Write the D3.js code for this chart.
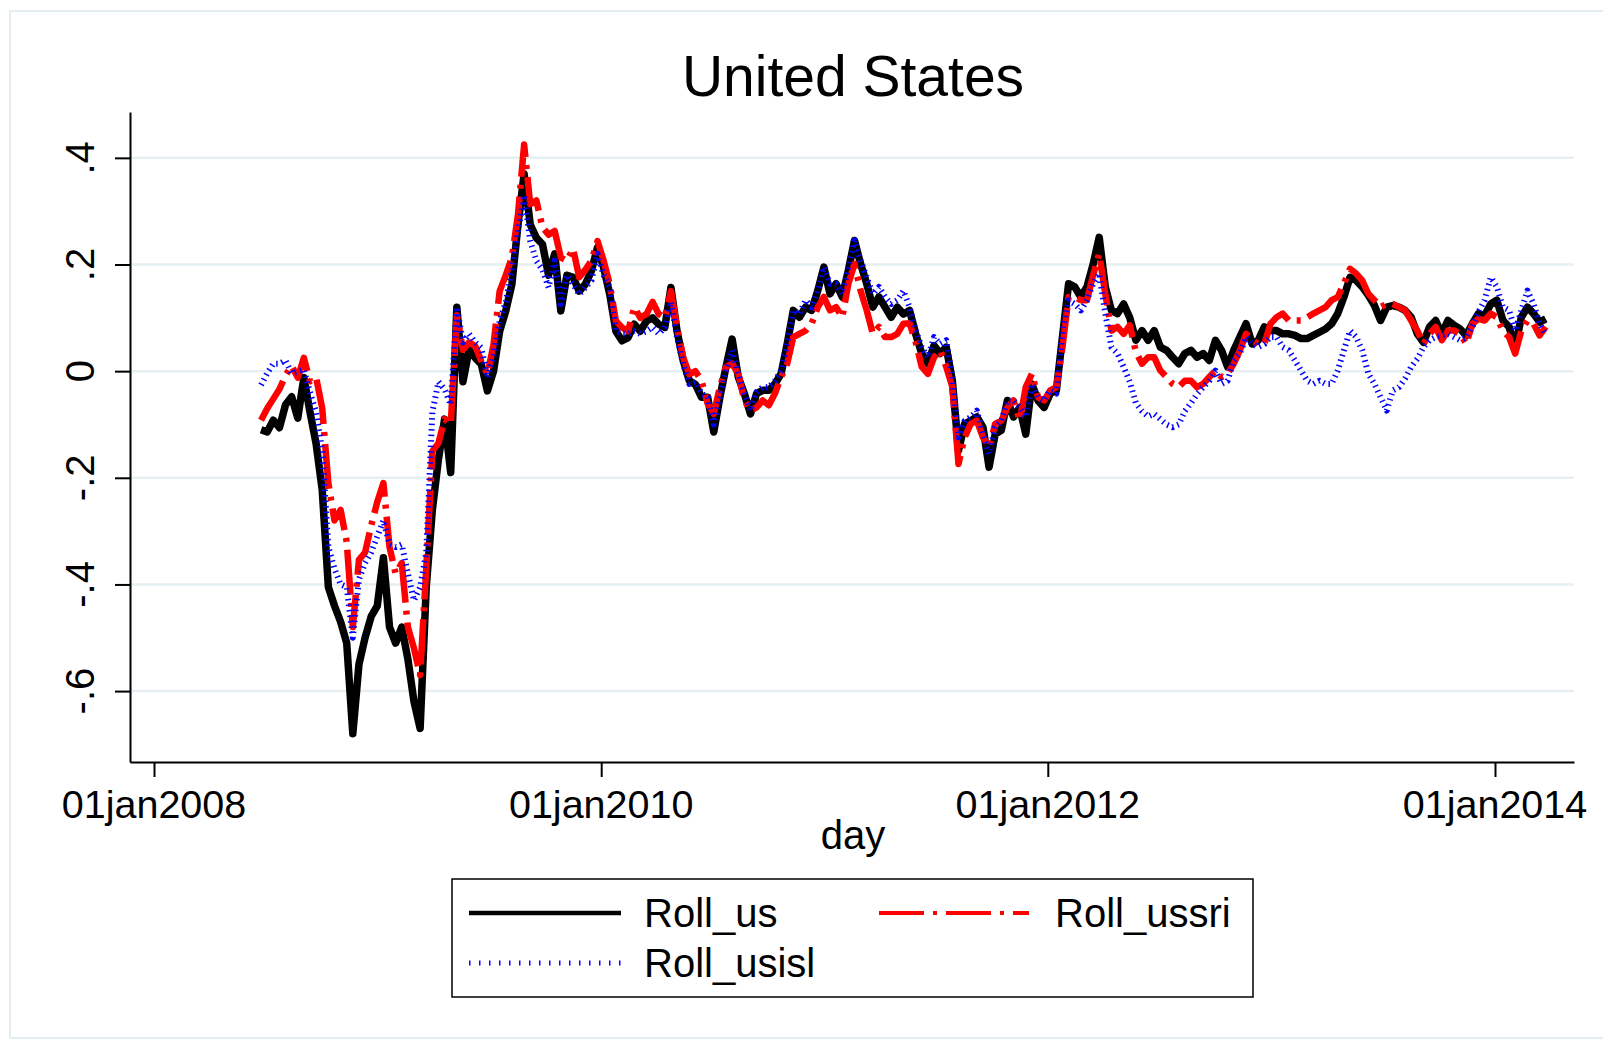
<!DOCTYPE html>
<html><head><meta charset="utf-8">
<script src="https://cdn.jsdelivr.net/npm/d3@7"></script>
<style>
body{margin:0;background:#fff}
svg{display:block}
text{font-family:"Liberation Sans",Arial,Helvetica,sans-serif;fill:#000}
</style>
</head><body>
<svg id="chart" width="1603" height="1041"></svg>
<script>
// ---------------- data ----------------
const chartTitle = "United States";
const xAxisTitle = "day";
const seriesNames = ["Roll_us", "Roll_ussri", "Roll_usisl"];
const startDate = "2008-06-24";   // first observation
const stepDays = 10;              // spacing of the sampled observations

const rollUs = [
-0.11,-0.114,-0.092,-0.106,-0.063,-0.048,-0.088,-0.012,-0.077,-0.136,
-0.223,-0.405,-0.44,-0.47,-0.51,-0.68,-0.55,-0.50,-0.46,-0.44,
-0.35,-0.48,-0.51,-0.48,-0.54,-0.62,-0.67,-0.405,-0.26,-0.165,
-0.09,-0.19,0.12,-0.02,0.04,0.025,0.013,-0.037,0.0,0.075,
0.113,0.163,0.275,0.37,0.275,0.25,0.238,0.18,0.22,0.113,
0.18,0.176,0.15,0.163,0.188,0.232,0.194,0.144,0.075,0.057,
0.063,0.088,0.075,0.094,0.1,0.088,0.082,0.157,0.075,0.02,
-0.018,-0.025,-0.049,-0.049,-0.114,-0.049,0.008,0.06,-0.011,-0.042,
-0.08,-0.042,-0.036,-0.036,-0.024,-0.005,0.051,0.114,0.101,0.12,
0.114,0.151,0.195,0.145,0.164,0.139,0.189,0.245,0.201,0.164,
0.12,0.139,0.12,0.101,0.12,0.107,0.114,0.07,0.033,0.014,
0.048,0.033,0.045,-0.018,-0.149,-0.099,-0.093,-0.086,-0.105,-0.18,
-0.118,-0.111,-0.055,-0.086,-0.068,-0.118,-0.024,-0.055,-0.068,-0.042,
-0.036,0.064,0.164,0.158,0.139,0.158,0.2,0.251,0.158,0.114,
0.108,0.126,0.1,0.058,0.076,0.058,0.076,0.045,0.039,0.026,
0.014,0.033,0.039,0.026,0.033,0.02,0.058,0.039,0.008,0.039,
0.064,0.089,0.051,0.058,0.083,0.076,0.076,0.07,0.07,0.067,
0.061,0.061,0.067,0.073,0.079,0.089,0.108,0.139,0.176,0.17,
0.158,0.142,0.123,0.095,0.12,0.123,0.12,0.114,0.101,0.07,
0.054,0.083,0.095,0.07,0.095,0.086,0.079,0.067,0.089,0.108,
0.104,0.126,0.133,0.095,0.083,0.045,0.101,0.12,0.108,0.092,
0.098];

const rollUssri = [
-0.092,-0.07,-0.052,-0.034,-0.008,0.01,-0.012,0.025,-0.019,-0.012,
-0.07,-0.21,-0.28,-0.26,-0.32,-0.48,-0.354,-0.34,-0.29,-0.245,
-0.21,-0.33,-0.38,-0.36,-0.48,-0.52,-0.57,-0.37,-0.15,-0.135,
-0.09,-0.10,0.105,0.04,0.054,0.047,0.019,-0.006,0.05,0.15,
0.18,0.213,0.294,0.425,0.313,0.32,0.27,0.256,0.263,0.213,
0.207,0.23,0.176,0.19,0.207,0.244,0.207,0.163,0.094,0.082,
0.075,0.12,0.1,0.107,0.13,0.107,0.1,0.15,0.082,0.026,
-0.006,0.0,-0.018,-0.061,-0.08,-0.03,0.008,0.014,-0.005,-0.055,
-0.074,-0.068,-0.055,-0.064,-0.042,-0.011,0.014,0.064,0.07,0.076,
0.089,0.12,0.139,0.114,0.12,0.101,0.164,0.201,0.151,0.114,
0.07,0.083,0.064,0.064,0.07,0.089,0.09,0.055,0.008,-0.005,
0.026,0.039,0.008,-0.03,-0.174,-0.124,-0.099,-0.093,-0.124,-0.143,
-0.099,-0.093,-0.068,-0.055,-0.093,-0.03,-0.005,-0.049,-0.055,-0.036,
-0.03,0.045,0.139,0.139,0.133,0.133,0.18,0.22,0.145,0.076,
0.083,0.07,0.086,0.036,0.014,0.026,0.026,0.001,-0.011,-0.024,
-0.03,-0.018,-0.018,-0.03,-0.024,-0.011,0.001,-0.011,-0.005,0.014,
0.039,0.07,0.058,0.051,0.051,0.089,0.101,0.108,0.095,0.095,
0.095,0.101,0.108,0.114,0.12,0.133,0.139,0.164,0.192,0.183,
0.17,0.145,0.133,0.12,0.126,0.126,0.12,0.114,0.095,0.076,
0.051,0.07,0.083,0.058,0.076,0.076,0.07,0.051,0.089,0.098,
0.095,0.108,0.101,0.076,0.064,0.033,0.076,0.095,0.089,0.067,
0.083];

const rollUsisl = [
-0.026,-0.004,0.014,0.014,0.02,-0.004,0.0,0.003,-0.04,-0.077,
-0.15,-0.33,-0.37,-0.40,-0.405,-0.50,-0.39,-0.36,-0.34,-0.31,
-0.28,-0.325,-0.33,-0.325,-0.38,-0.43,-0.405,-0.34,-0.077,-0.02,
-0.034,-0.063,0.12,0.054,0.07,0.054,0.044,-0.012,0.03,0.094,
0.13,0.19,0.263,0.33,0.244,0.207,0.19,0.157,0.207,0.126,
0.18,0.163,0.144,0.157,0.17,0.22,0.18,0.157,0.075,0.07,
0.07,0.075,0.07,0.075,0.082,0.07,0.082,0.13,0.063,0.013,
-0.024,-0.02,-0.042,-0.049,-0.1,-0.049,0.001,0.039,-0.005,-0.042,
-0.074,-0.039,-0.03,-0.03,-0.018,0.001,0.051,0.114,0.107,0.133,
0.12,0.151,0.195,0.164,0.164,0.145,0.195,0.245,0.208,0.176,
0.145,0.158,0.139,0.126,0.133,0.151,0.12,0.077,0.045,0.026,
0.064,0.051,0.058,-0.011,-0.124,-0.093,-0.086,-0.074,-0.118,-0.155,
-0.105,-0.093,-0.055,-0.055,-0.068,-0.086,-0.024,-0.049,-0.055,-0.036,
-0.042,0.076,0.133,0.126,0.114,0.133,0.164,0.183,0.108,0.045,
0.033,0.008,-0.02,-0.06,-0.075,-0.085,-0.08,-0.09,-0.1,-0.105,
-0.1,-0.075,-0.06,-0.043,-0.03,-0.018,0.001,-0.024,-0.018,0.02,
0.033,0.064,0.051,0.045,0.051,0.064,0.064,0.045,0.039,0.02,
0.001,-0.018,-0.024,-0.018,-0.024,-0.024,0.001,0.039,0.076,0.064,
0.039,-0.005,-0.024,-0.049,-0.074,-0.036,-0.03,-0.014,0.008,0.023,
0.045,0.058,0.064,0.067,0.07,0.064,0.058,0.064,0.083,0.111,
0.133,0.176,0.158,0.12,0.114,0.076,0.114,0.151,0.126,0.089,
0.067];

const yTickValues = [-0.6, -0.4, -0.2, 0, 0.2, 0.4];
const yTickLabels = ["-.6", "-.4", "-.2", "0", ".2", ".4"];
const xTickDates = ["2008-01-01", "2010-01-01", "2012-01-01", "2014-01-01"];
const xTickLabels = ["01jan2008", "01jan2010", "01jan2012", "01jan2014"];

// ---------------- layout ----------------
const plotLeft = 130, plotRight = 1574, plotTop = 112, plotBottom = 762;
const svg = d3.select("#chart");

const parse = d3.utcParse("%Y-%m-%d");
const x0 = d3.scaleUtc()
  .domain([parse(xTickDates[0]), parse(xTickDates[3])])
  .range([154, 1495]);
const x = d3.scaleUtc()
  .domain([x0.invert(plotLeft), x0.invert(plotRight)])
  .range([plotLeft, plotRight]);
const y = d3.scaleLinear().domain([-0.733, 0.486]).range([plotBottom, plotTop]);

const start = parse(startDate);
const mk = arr => arr.map((v, i) => ({date: d3.utcDay.offset(start, i * stepDays), v}));
const series = [
  {name: seriesNames[0], data: mk(rollUs), color: "#000000", width: 7.5, dash: null},
  {name: seriesNames[1], data: mk(rollUssri), color: "#ff0000", width: 6.5, dash: "45,8,4,8"},
  {name: seriesNames[2], data: mk(rollUsisl), color: "#0000ff", width: 6, dash: "1.5,4"}
];

// outer graph region border
svg.append("rect").attr("x", 10).attr("y", 11).attr("width", 1600).attr("height", 1027)
  .attr("fill", "none").attr("stroke", "#e4edf0").attr("stroke-width", 2);

// gridlines
svg.append("g").selectAll("line").data(yTickValues).join("line")
  .attr("x1", plotLeft).attr("x2", plotRight)
  .attr("y1", d => y(d)).attr("y2", d => y(d))
  .attr("stroke", "#e6eff1").attr("stroke-width", 2.5);

// y axis
const yAxis = svg.append("g").attr("transform", `translate(${plotLeft},0)`)
  .call(d3.axisLeft(y).tickValues(yTickValues).tickSize(15).tickSizeOuter(0).tickFormat(""));
yAxis.select(".domain").attr("stroke", "#000").attr("stroke-width", 2);
yAxis.selectAll(".tick line").attr("stroke", "#000").attr("stroke-width", 2);
svg.append("g").selectAll("text").data(yTickValues).join("text")
  .attr("transform", d => `translate(94,${y(d)}) rotate(-90)`)
  .attr("text-anchor", "middle").attr("font-size", 40)
  .text((d, i) => yTickLabels[i]);

// x axis
const xAxis = svg.append("g").attr("transform", `translate(0,${plotBottom})`)
  .call(d3.axisBottom(x).tickValues(xTickDates.map(parse)).tickSize(15).tickSizeOuter(0).tickFormat(""));
xAxis.select(".domain").attr("stroke", "#000").attr("stroke-width", 2);
xAxis.selectAll(".tick line").attr("stroke", "#000").attr("stroke-width", 2);
svg.append("g").selectAll("text").data(xTickDates).join("text")
  .attr("x", d => x(parse(d))).attr("y", 818)
  .attr("text-anchor", "middle").attr("font-size", 39.5)
  .text((d, i) => xTickLabels[i]);

// axis title and chart title
svg.append("text").attr("x", 853).attr("y", 849).attr("text-anchor", "middle")
  .attr("font-size", 40).text(xAxisTitle);
svg.append("text").attr("x", 853).attr("y", 96).attr("text-anchor", "middle")
  .attr("font-size", 57).text(chartTitle);

// lines
const line = d3.line().x(d => x(d.date)).y(d => y(d.v));
svg.append("g").selectAll("path").data(series).join("path")
  .attr("d", d => line(d.data))
  .attr("fill", "none")
  .attr("stroke", d => d.color)
  .attr("stroke-width", d => d.width)
  .attr("stroke-linejoin", "round")
  .attr("stroke-dasharray", d => d.dash);

// legend
const lg = svg.append("g");
lg.append("rect").attr("x", 452).attr("y", 879).attr("width", 801).attr("height", 118)
  .attr("fill", "#fff").attr("stroke", "#000").attr("stroke-width", 1.5);
const legendItems = [
  {s: series[0], x1: 469, x2: 621, ly: 913, tx: 644, ty: 927, dash: null, w: 4.5},
  {s: series[1], x1: 879, x2: 1029, ly: 913, tx: 1055, ty: 927, dash: "45,9,4,9", w: 4},
  {s: series[2], x1: 469, x2: 621, ly: 963, tx: 644, ty: 977, dash: "1.5,8.5", w: 5}
];
legendItems.forEach(it => {
  lg.append("line").attr("x1", it.x1).attr("x2", it.x2).attr("y1", it.ly).attr("y2", it.ly)
    .attr("stroke", it.s.color).attr("stroke-width", it.w)
    .attr("stroke-dasharray", it.dash);
  lg.append("text").attr("x", it.tx).attr("y", it.ty).attr("font-size", 40).text(it.s.name);
});
</script>
</body></html>
